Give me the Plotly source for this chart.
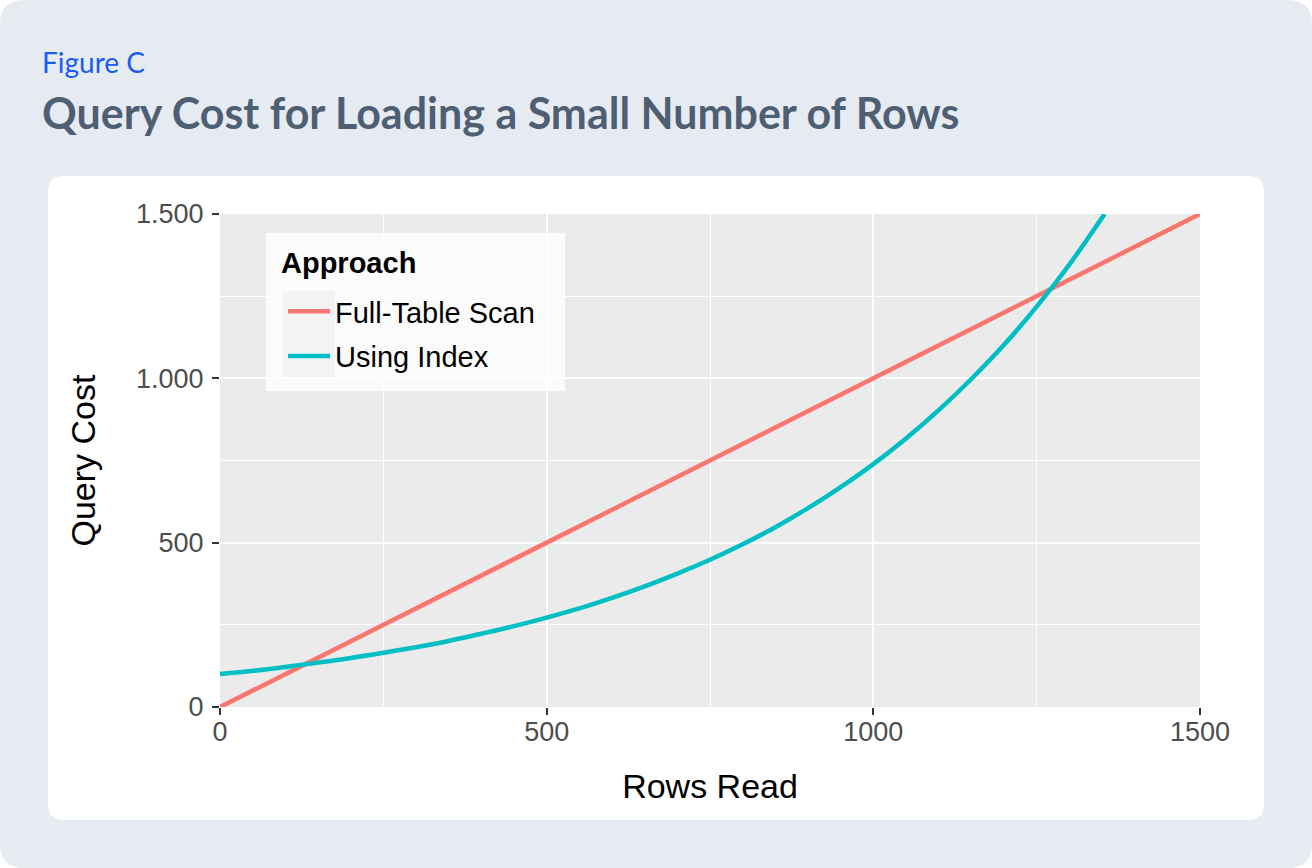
import plotly.graph_objects as go

# ---------------- data ----------------
rows_full = [0, 250, 500, 750, 1000, 1250, 1500]
cost_full = [0, 250, 500, 750, 1000, 1250, 1500]

rows_index = [0, 50, 100, 150, 200, 250, 300, 350, 400, 450, 500, 550, 600, 650,
              700, 750, 800, 850, 900, 950, 1000, 1050, 1100, 1150, 1200, 1250,
              1300, 1354]
cost_index = [100, 110, 122, 135, 149, 165, 182, 201, 223, 246, 272, 300, 332, 367,
              406, 448, 495, 547, 605, 669, 739, 817, 903, 998, 1102, 1218,
              1346, 1500]

x_ticks = [0, 500, 1000, 1500]
x_tick_labels = ["0", "500", "1000", "1500"]
y_ticks = [0, 500, 1000, 1500]
y_tick_labels = ["0", "500", "1.000", "1.500"]

series_names = ["Full-Table Scan", "Using Index"]
series_colors = ["#F8766D", "#00BFC4"]
legend_title = "Approach"

# ---------------- layout geometry ----------------
W, H = 1312, 868
L, R, T, B = 220, 112, 214, 161
PW, PH = W - L - R, H - T - B
AX_FONT = "Liberation Sans, Arial, Helvetica, sans-serif"


def px_x(px):
    return (px - L) / PW


def px_y(py):
    return (H - B - py) / PH


def rounded_rect(x0, y0, x1, y1, r):
    # pixel coords (top-left origin) -> path in paper coords
    rx, ry = r / PW, r / PH
    X0, X1 = px_x(x0), px_x(x1)
    Yt, Yb = px_y(y0), px_y(y1)
    return (f"M {X0+rx},{Yt} L {X1-rx},{Yt} Q {X1},{Yt} {X1},{Yt-ry} "
            f"L {X1},{Yb+ry} Q {X1},{Yb} {X1-rx},{Yb} "
            f"L {X0+rx},{Yb} Q {X0},{Yb} {X0},{Yb+ry} "
            f"L {X0},{Yt-ry} Q {X0},{Yt} {X0+rx},{Yt} Z")


fig = go.Figure()

fig.add_trace(go.Scatter(
    x=rows_full, y=cost_full, mode="lines", name=series_names[0],
    line=dict(color=series_colors[0], width=4.5), legendgroup="a"))
fig.add_trace(go.Scatter(
    x=rows_index, y=cost_index, mode="lines", name=series_names[1],
    line=dict(color=series_colors[1], width=4.5, shape="spline"), legendgroup="b"))

shapes = [
    dict(type="path", xref="paper", yref="paper", layer="below",
         path=rounded_rect(0, 0, W, H, 24), fillcolor="#e6ebf2", line=dict(width=0)),
    dict(type="path", xref="paper", yref="paper", layer="below",
         path=rounded_rect(48, 176, 1264, 820, 16), fillcolor="#ffffff", line=dict(width=0)),
    dict(type="rect", xref="paper", yref="paper", layer="below",
         x0=0, x1=1, y0=0, y1=1, fillcolor="#ebebeb", line=dict(width=0)),
    # legend box background
    dict(type="rect", xref="paper", yref="paper", layer="above",
         x0=px_x(266), x1=px_x(565), y0=px_y(391), y1=px_y(233),
         fillcolor="rgba(255,255,255,0.8)", line=dict(width=0)),
    # legend key backgrounds
    dict(type="rect", xref="paper", yref="paper", layer="above",
         x0=px_x(283), x1=px_x(335), y0=px_y(377), y1=px_y(291),
         fillcolor="#f3f3f3", line=dict(width=0)),
]

axis_common = dict(
    showline=False, zeroline=False, gridcolor="#ffffff", gridwidth=2,
    ticks="outside", ticklen=7, tickwidth=1.5, tickcolor="#333333",
    tickfont=dict(family=AX_FONT, size=27, color="#4d4d4d"),
    minor=dict(showgrid=True, gridcolor="#ffffff", gridwidth=1, ticks="", dtick=500, tick0=250),
    title_font=dict(family=AX_FONT, size=34, color="#000000"),
)

fig.update_xaxes(range=[0, 1500], tickvals=x_ticks, ticktext=x_tick_labels,
                 ticklabelstandoff=-6,
                 title_text="Rows Read", title_standoff=27, **axis_common)
fig.update_yaxes(range=[0, 1500], tickvals=y_ticks, ticktext=y_tick_labels,
                 ticklabelstandoff=3,
                 title_text="Query Cost", title_standoff=30, **axis_common)

fig.update_layout(
    width=W, height=H,
    margin=dict(l=L, r=R, t=T, b=B, pad=0),
    paper_bgcolor="#ffffff", plot_bgcolor="rgba(0,0,0,0)",
    shapes=shapes,
    showlegend=True,
    legend=dict(
        x=px_x(283), y=px_y(286), xanchor="left", yanchor="top",
        bgcolor="rgba(0,0,0,0)", borderwidth=0,
        itemwidth=42,
        font=dict(family=AX_FONT, size=29, color="#000000"),
        traceorder="grouped", tracegroupgap=4,
    ),
    annotations=[
        dict(text="Figure C", xref="paper", yref="paper", x=px_x(40), y=px_y(62),
             xanchor="left", yanchor="middle", showarrow=False,
             font=dict(family="Lato, sans-serif", size=28, color="#1a5cf0")),
        dict(text="<b>Query Cost for Loading a Small Number of Rows</b>", xref="paper", yref="paper",
             x=px_x(40), y=px_y(112), xanchor="left", yanchor="middle", showarrow=False,
             font=dict(family="Lato, sans-serif", size=43, color="#4f5f73")),
        dict(text=f"<b>{legend_title}</b>", xref="paper", yref="paper", x=px_x(279), y=px_y(263),
             xanchor="left", yanchor="middle", showarrow=False,
             font=dict(family=AX_FONT, size=29, color="#000000")),
    ],
)

fig.write_html("out.html", config={"displayModeBar": False},
               post_script="document.body.style.margin='0';")
